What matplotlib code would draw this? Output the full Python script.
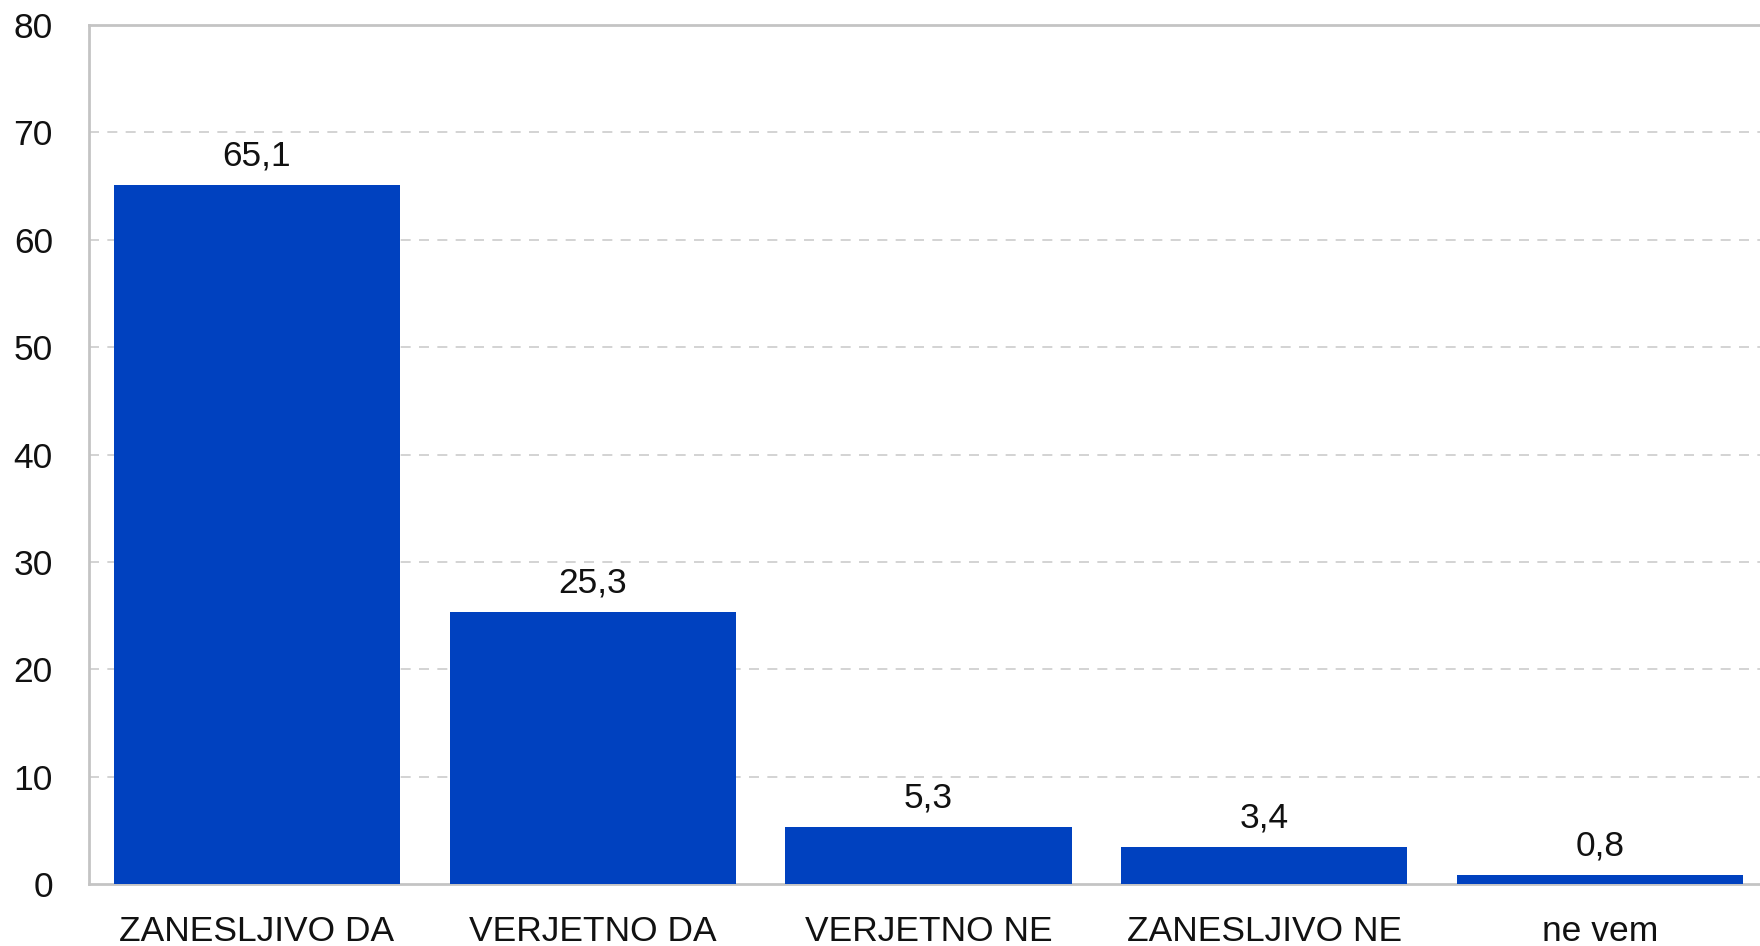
import matplotlib.pyplot as plt

plt.rcParams['font.family'] = ['Liberation Sans', 'DejaVu Sans']

categories = ['ZANESLJIVO DA', 'VERJETNO DA', 'VERJETNO NE', 'ZANESLJIVO NE', 'ne vem']
values = [65.1, 25.3, 5.3, 3.4, 0.8]
value_labels = ['65,1', '25,3', '5,3', '3,4', '0,8']
yticks = [0, 10, 20, 30, 40, 50, 60, 70, 80]

W, H = 1760, 946
fig = plt.figure(figsize=(W / 100, H / 100), dpi=100)
# axes runs slightly past the right edge, so the right spine is cut off
ax = fig.add_axes([89 / W, 1 - 884 / H, (1768 - 89) / W, (884 - 25) / H])

x = range(len(categories))
ax.bar(x, values, width=0.852, color='#0041bf', zorder=3)

for xi, v, lab in zip(x, values, value_labels):
    ax.annotate(lab, (xi, v), xytext=(0, 9), textcoords='offset points',
                ha='center', va='bottom', fontsize=25.5, color='#111111')

ax.set_xlim(-0.5, 4.5)
ax.set_ylim(0, 80)
ax.set_yticks(yticks)
ax.set_xticks(list(x))
ax.set_xticklabels(categories)

for y in yticks[1:-1]:
    ax.axhline(y, color='#cccccc', lw=1.2, ls=(0, (6, 5)), zorder=1)

for side in ['left', 'top', 'bottom']:
    ax.spines[side].set_color('#c4c4c4')
    ax.spines[side].set_linewidth(2)
ax.spines['right'].set_visible(False)

ax.tick_params(axis='y', length=0, pad=26, labelsize=25.5, labelcolor='#111111')
ax.tick_params(axis='x', length=0, pad=22, labelsize=25.5, labelcolor='#111111')

fig.savefig('out.png', dpi=100)
